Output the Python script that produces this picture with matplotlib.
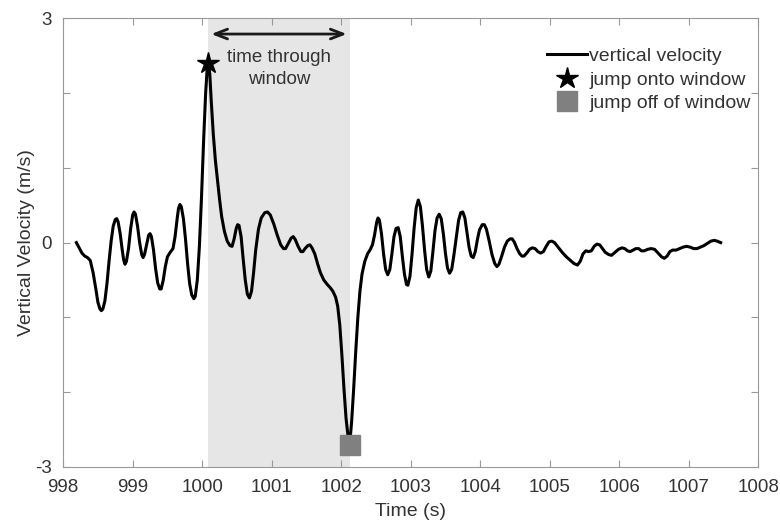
import numpy as np
import matplotlib.pyplot as plt

plt.rcParams['font.family'] = ['Liberation Sans', 'DejaVu Sans']

# vertical velocity trace (time in s, velocity in m/s)
time = [998.19, 998.23, 998.27, 998.31, 998.35, 998.39, 998.43, 998.47, 998.50, 998.53,
        998.55, 998.57, 998.60, 998.63, 998.66, 998.69, 998.72, 998.75, 998.77, 998.79,
        998.82, 998.85, 998.87, 998.89, 998.91, 998.94, 998.97, 999.00, 999.02, 999.04,
        999.07, 999.10, 999.13, 999.15, 999.17, 999.20, 999.23, 999.25, 999.27, 999.30,
        999.33, 999.36, 999.39, 999.41, 999.44, 999.47, 999.50, 999.54, 999.58, 999.61,
        999.64, 999.66, 999.68, 999.70, 999.73, 999.76, 999.79, 999.82, 999.85, 999.88,
        999.90, 999.93, 999.96, 999.99, 1000.02, 1000.05, 1000.07, 1000.09, 1000.11, 1000.13,
        1000.16, 1000.19, 1000.22, 1000.25, 1000.28, 1000.32, 1000.36, 1000.40, 1000.43, 1000.46,
        1000.49, 1000.51, 1000.53, 1000.56, 1000.59, 1000.62, 1000.65, 1000.68, 1000.71, 1000.74,
        1000.77, 1000.81, 1000.85, 1000.90, 1000.94, 1000.98, 1001.03, 1001.08, 1001.13, 1001.17,
        1001.20, 1001.24, 1001.28, 1001.31, 1001.34, 1001.38, 1001.42, 1001.45, 1001.48, 1001.52,
        1001.55, 1001.58, 1001.62, 1001.66, 1001.70, 1001.75, 1001.80, 1001.84, 1001.88, 1001.92,
        1001.95, 1001.98, 1002.01, 1002.04, 1002.07, 1002.10, 1002.13, 1002.15, 1002.18, 1002.21,
        1002.24, 1002.27, 1002.30, 1002.34, 1002.38, 1002.42, 1002.45, 1002.48, 1002.51, 1002.53,
        1002.55, 1002.58, 1002.61, 1002.64, 1002.67, 1002.70, 1002.73, 1002.76, 1002.79, 1002.82,
        1002.85, 1002.88, 1002.91, 1002.94, 1002.96, 1002.99, 1003.02, 1003.05, 1003.08, 1003.11,
        1003.14, 1003.17, 1003.20, 1003.23, 1003.26, 1003.29, 1003.32, 1003.35, 1003.38, 1003.41,
        1003.44, 1003.47, 1003.50, 1003.53, 1003.56, 1003.59, 1003.62, 1003.66, 1003.69, 1003.72,
        1003.75, 1003.78, 1003.81, 1003.84, 1003.87, 1003.90, 1003.93, 1003.96, 1003.99, 1004.03,
        1004.06, 1004.09, 1004.13, 1004.17, 1004.21, 1004.24, 1004.27, 1004.31, 1004.35, 1004.39,
        1004.43, 1004.46, 1004.49, 1004.53, 1004.57, 1004.60, 1004.63, 1004.67, 1004.71, 1004.75,
        1004.79, 1004.83, 1004.87, 1004.91, 1004.95, 1004.99, 1005.03, 1005.07, 1005.12, 1005.18,
        1005.24, 1005.30, 1005.35, 1005.40, 1005.44, 1005.48, 1005.52, 1005.56, 1005.60, 1005.64,
        1005.68, 1005.72, 1005.76, 1005.80, 1005.85, 1005.89, 1005.94, 1005.99, 1006.04, 1006.08,
        1006.12, 1006.16, 1006.20, 1006.24, 1006.28, 1006.32, 1006.36, 1006.41, 1006.46, 1006.51,
        1006.56, 1006.61, 1006.65, 1006.69, 1006.73, 1006.77, 1006.82, 1006.87, 1006.92, 1006.97,
        1007.02, 1007.07, 1007.12, 1007.17, 1007.22, 1007.27, 1007.32, 1007.37, 1007.41, 1007.46]
velocity = [0.00, -0.07, -0.14, -0.18, -0.20, -0.24, -0.40, -0.62, -0.80, -0.89,
            -0.91, -0.89, -0.78, -0.55, -0.25, 0.02, 0.22, 0.31, 0.32, 0.28,
            0.12, -0.10, -0.23, -0.29, -0.25, -0.08, 0.18, 0.37, 0.41, 0.38,
            0.22, 0.00, -0.16, -0.20, -0.16, -0.03, 0.10, 0.12, 0.08, -0.10,
            -0.35, -0.54, -0.62, -0.62, -0.50, -0.32, -0.19, -0.13, -0.08, 0.08,
            0.32, 0.46, 0.51, 0.48, 0.32, 0.05, -0.28, -0.55, -0.70, -0.75,
            -0.72, -0.50, -0.05, 0.60, 1.35, 2.00, 2.30, 2.40, 2.25, 1.90,
            1.45, 1.10, 0.84, 0.58, 0.35, 0.15, 0.02, -0.04, -0.05, 0.05,
            0.19, 0.24, 0.23, 0.08, -0.22, -0.50, -0.69, -0.74, -0.65, -0.40,
            -0.10, 0.18, 0.33, 0.40, 0.41, 0.37, 0.25, 0.10, -0.03, -0.08,
            -0.08, -0.01, 0.06, 0.08, 0.04, -0.05, -0.12, -0.12, -0.08, -0.04,
            -0.03, -0.07, -0.15, -0.28, -0.40, -0.50, -0.56, -0.60, -0.65, -0.73,
            -0.85, -1.10, -1.50, -1.95, -2.35, -2.60, -2.62, -2.40, -1.95, -1.45,
            -1.00, -0.65, -0.42, -0.25, -0.15, -0.09, -0.03, 0.10, 0.27, 0.33,
            0.30, 0.12, -0.15, -0.36, -0.43, -0.36, -0.15, 0.08, 0.19, 0.20,
            0.08, -0.18, -0.42, -0.56, -0.57, -0.45, -0.15, 0.20, 0.47, 0.57,
            0.48, 0.22, -0.10, -0.36, -0.46, -0.38, -0.12, 0.16, 0.33, 0.38,
            0.32, 0.12, -0.14, -0.34, -0.41, -0.36, -0.18, 0.10, 0.30, 0.40,
            0.41, 0.33, 0.14, -0.06, -0.18, -0.20, -0.12, 0.04, 0.17, 0.24,
            0.24, 0.18, 0.02, -0.16, -0.28, -0.32, -0.29, -0.18, -0.06, 0.02,
            0.05, 0.05, 0.01, -0.08, -0.15, -0.18, -0.18, -0.14, -0.09, -0.07,
            -0.08, -0.12, -0.14, -0.12, -0.05, 0.01, 0.02, 0.00, -0.06, -0.13,
            -0.19, -0.24, -0.28, -0.30, -0.25, -0.15, -0.11, -0.12, -0.11, -0.05,
            -0.02, -0.03, -0.08, -0.13, -0.16, -0.17, -0.13, -0.09, -0.07, -0.08,
            -0.11, -0.12, -0.10, -0.08, -0.08, -0.11, -0.11, -0.09, -0.08, -0.09,
            -0.14, -0.19, -0.21, -0.18, -0.12, -0.10, -0.10, -0.08, -0.06, -0.05,
            -0.06, -0.08, -0.08, -0.06, -0.04, -0.01, 0.02, 0.03, 0.02, 0.00]

jump_on = (1000.09, 2.40)
jump_off = (1002.12, -2.71)
arrow_y = 2.79

fig = plt.figure(figsize=(7.8, 5.24), dpi=100)
ax = fig.add_axes([0.081, 0.109, 0.891, 0.856])

ax.axvspan(jump_on[0], jump_off[0], color='#e6e6e6', lw=0, zorder=0)
ax.plot(time, velocity, color='black', lw=2.2, label='vertical velocity', zorder=2,
        solid_joinstyle='round')
ax.plot(jump_on[0], jump_on[1], '*', color='black', ms=16, label='jump onto window', zorder=3)
ax.plot(jump_off[0], jump_off[1], 's', color='#808080', ms=15, label='jump off of window', zorder=3)

ax.annotate('', xy=(jump_off[0], arrow_y), xytext=(jump_on[0], arrow_y),
            arrowprops=dict(arrowstyle='<->,head_length=0.9,head_width=0.35', color='#1a1a1a', lw=2))
ax.text((jump_on[0] + jump_off[0]) / 2, 2.33, 'time through\nwindow', ha='center', va='center',
        fontsize=13.5, color='#333333', linespacing=1.45)

ax.set_xlim(998, 1008)
ax.set_ylim(-3, 3)
ax.set_xticks(np.arange(998, 1009, 1))
ax.set_yticks(np.arange(-3, 4, 1))
ax.set_yticklabels(['-3', '', '', '0', '', '', '3'])
ax.tick_params(direction='in', top=True, right=True, length=5, color='#999999',
               labelcolor='#333333', labelsize=13.5)
ax.tick_params(axis='x', pad=9)
ax.tick_params(axis='y', pad=8)
for s in ax.spines.values():
    s.set_color('#999999')

ax.set_xlabel('Time (s)', fontsize=14, color='#333333', labelpad=5)
ax.set_ylabel('Vertical Velocity (m/s)', fontsize=14, color='#333333', labelpad=0)

leg = ax.legend(loc='upper right', bbox_to_anchor=(1.009, 0.965), frameon=False, fontsize=14,
                handlelength=2.1, handletextpad=0.1, labelspacing=0.3, borderaxespad=0.3)
for t in leg.get_texts():
    t.set_color('#333333')

fig.savefig('out.png', dpi=100)
